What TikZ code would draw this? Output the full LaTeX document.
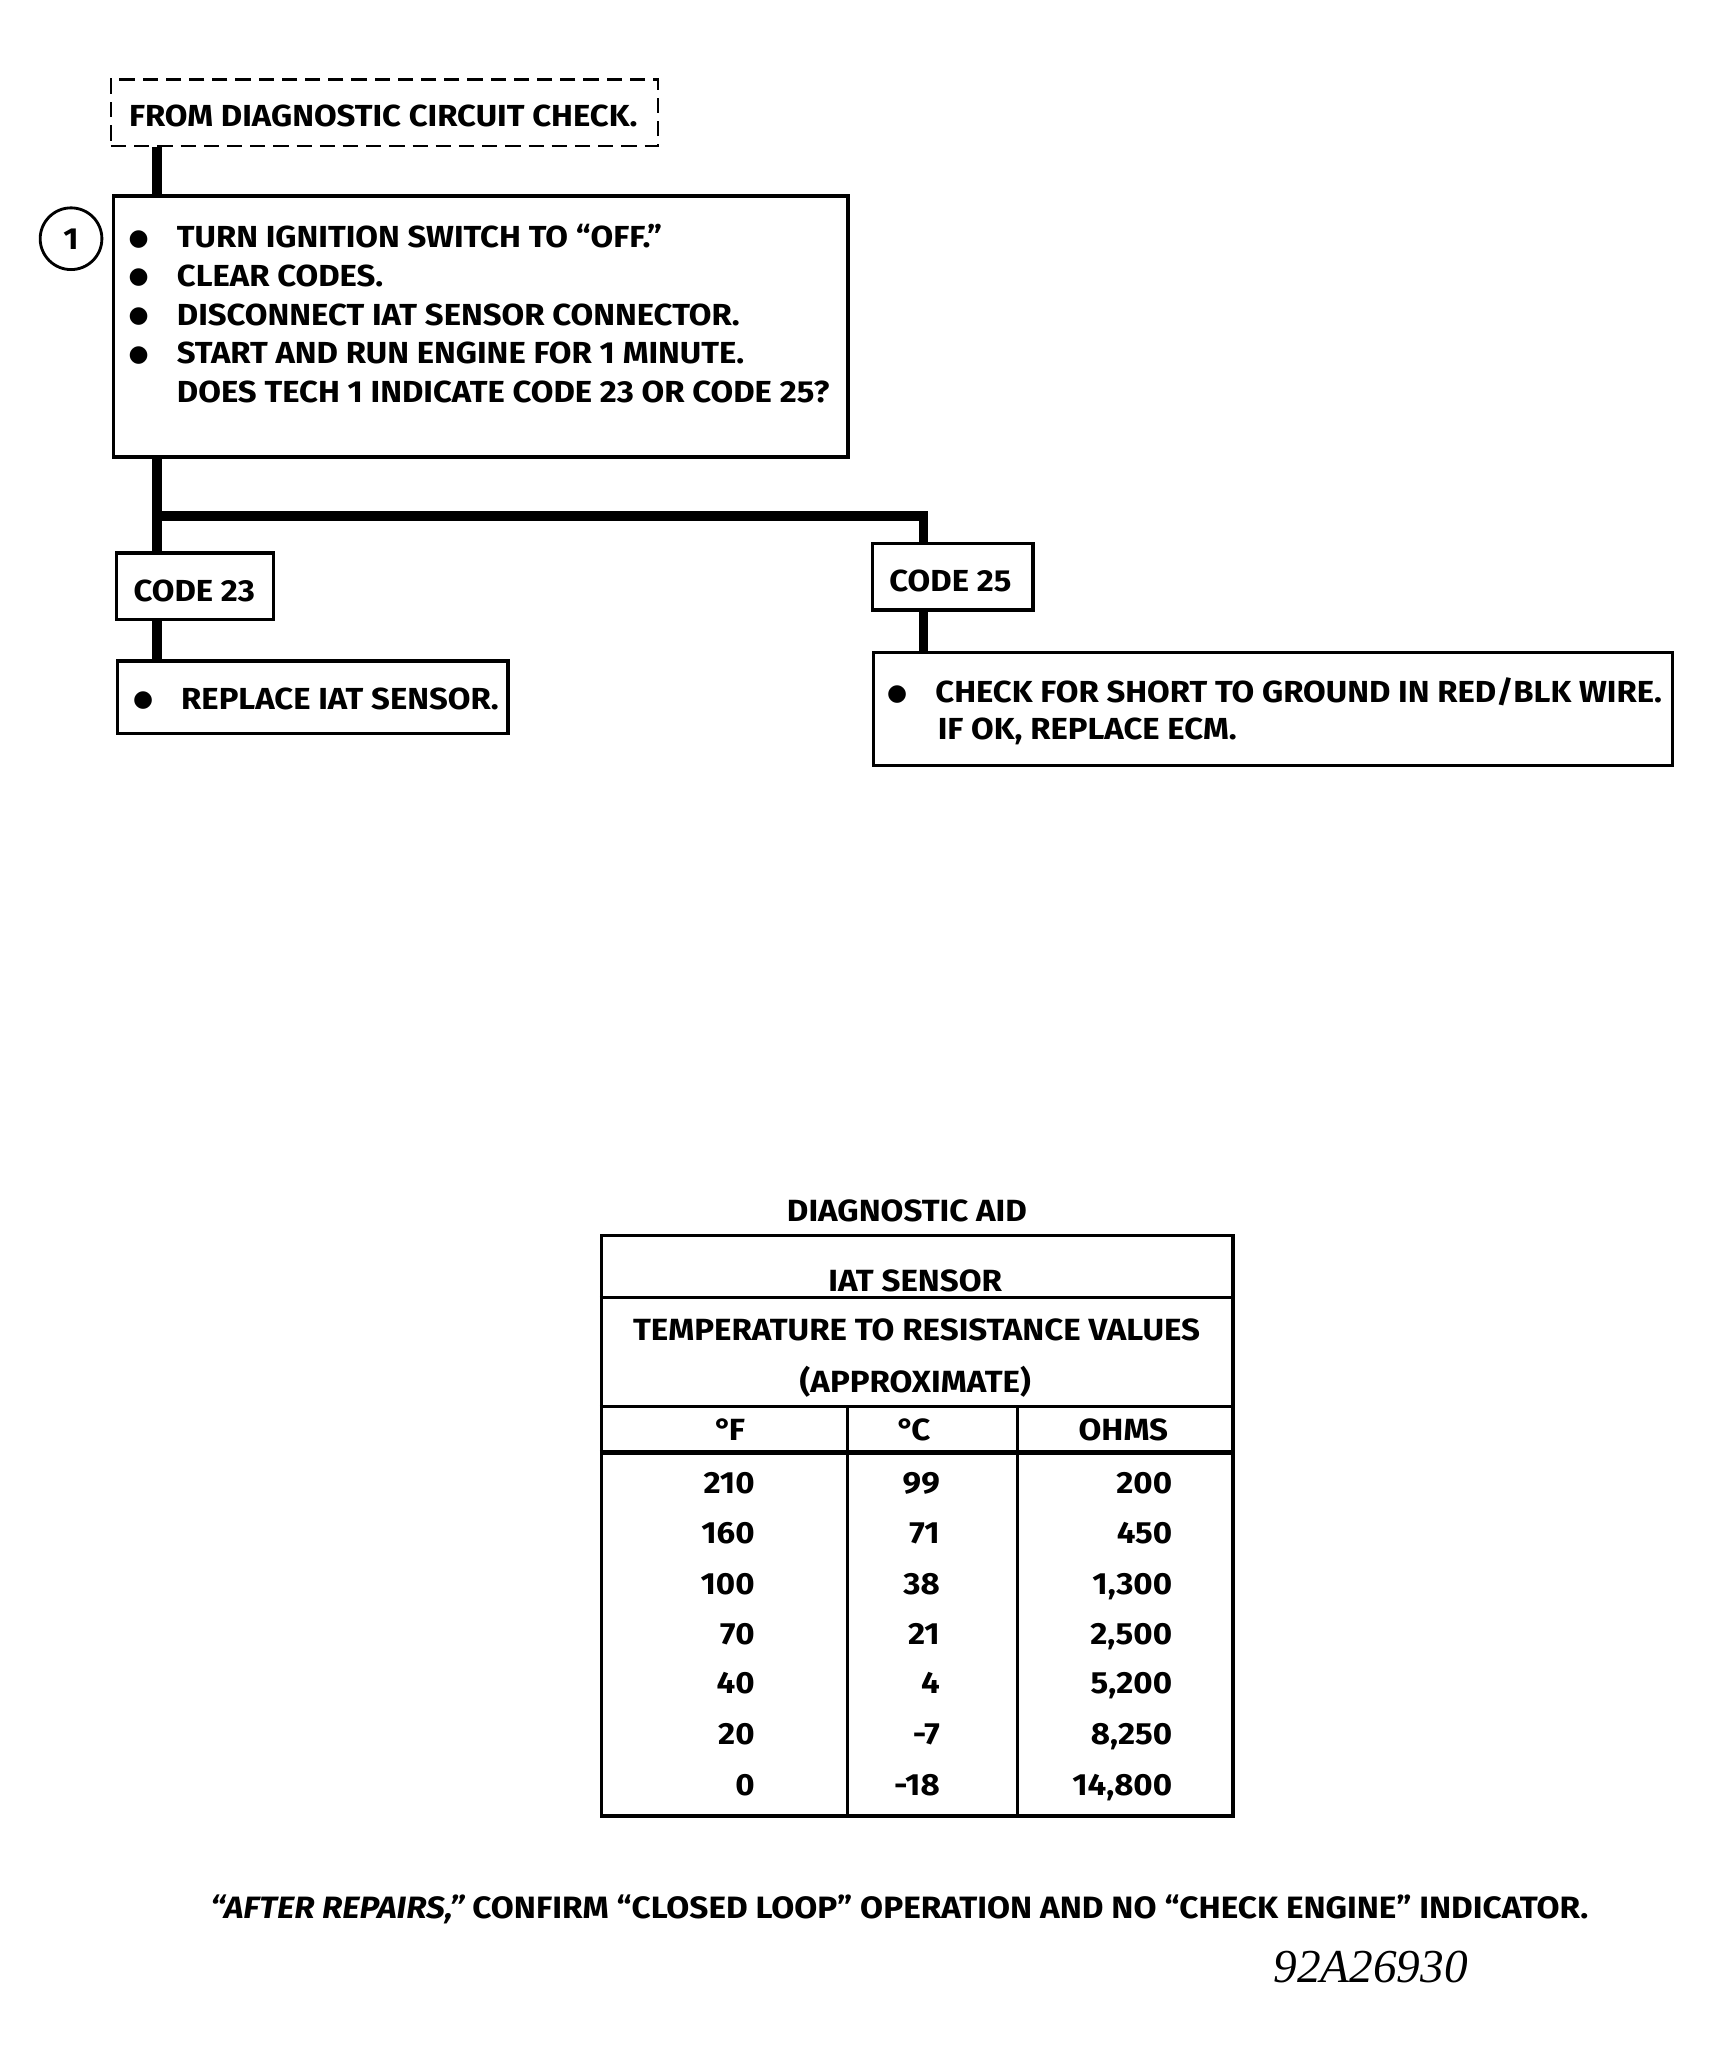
\documentclass[tikz,border=0pt]{standalone}
\usepackage{fontspec}
\setmainfont{Fira Sans}[FakeStretch=1.08]
\newfontfamily\serifrm{Liberation Serif}
\newfontfamily\dejavu{DejaVu Sans}
\usetikzlibrary{fit}
\newcommand\flowfont{\bfseries\fontsize{13.9}{16}\selectfont}
\newcommand\footfont{\bfseries\fontsize{14.1}{16}\selectfont}
\newcommand\tabfont{\bfseries\fontsize{14.0}{16}\selectfont}
\newcommand\bul{\makebox[20.8pt][l]{\hspace{-1.2pt}\raisebox{1.1pt}{\dejavu\fontsize{10.5}{12}\selectfont ●}}}
\newcommand\dg{°\kern-1.5pt}
\tikzset{
  box/.style={draw, line width=1.6pt, inner sep=0pt},
  dbox/.style={draw, line width=1.2pt, dash pattern=on 7pt off 3.6pt, inner sep=0pt},
  conn/.style={line width=4.3pt, line join=miter, line cap=butt},
  txt/.style={anchor=base west, inner sep=0pt, font=\flowfont},
  ctxt/.style={anchor=base, inner sep=0pt, font=\tabfont},
  rtxt/.style={anchor=base east, inner sep=0pt, font=\tabfont},
  tline/.style={line width=1.5pt},
  numcirc/.style={draw, circle, line width=1.3pt, minimum size=28.2pt, inner sep=0pt, font=\flowfont}
}
\begin{document}
\begin{tikzpicture}[x=0.6pt, y=-0.6pt]
\fill[white] (0,0) rectangle (1303,1568);
\useasboundingbox (0,0) rectangle (1303,1568);

% ---- flowchart boxes
\node[dbox, fit={(84.5,60.5) (501,111.2)}] (start) {};
\node[box, fit={(86.6,149.2) (645.8,347.9)}] (s1) {};
\node[numcirc] (n1) at (54.1,181.8) {1};
\node[box, fit={(88.8,421) (208.4,471.7)}] (c23) {};
\node[box, fit={(664.3,413.8) (786.5,464.5)}] (c25) {};
\node[box, fit={(89.6,503.4) (386.7,558.4)}] (r23) {};
\node[box, fit={(665.2,497) (1273.8,582.8)}] (r25) {};

% ---- texts
\node[txt] (tstart) at (98,96.4) {FROM DIAGNOSTIC CIRCUIT CHECK.};
\node[txt] (l1) at (99.7,188.6) {\bul TURN IGNITION SWITCH TO “OFF.”};
\node[txt] (l2) at (99.7,218.1) {\bul CLEAR CODES.};
\node[txt] (l3) at (99.7,247.6) {\bul DISCONNECT IAT SENSOR CONNECTOR.};
\node[txt] (l4) at (99.7,277.1) {\bul START AND RUN ENGINE FOR 1 MINUTE.};
\node[txt] (l5) at (134.4,306.6) {DOES TECH 1 INDICATE CODE 23 OR CODE 25?};
\node[txt] (tc23) at (101.4,457.8) {CODE 23};
\node[txt] (tc25) at (677,450.5) {CODE 25};
\node[txt] (tr23) at (103,540.2) {\bul REPLACE IAT SENSOR.};
\node[txt] (tr25a) at (677.3,535) {\bul CHECK FOR SHORT TO GROUND IN RED/BLK WIRE.};
\node[txt] (tr25b) at (713.8,563.4) {IF OK, REPLACE ECM.};

% ---- connectors
\coordinate (xa) at (119.5,393);
\coordinate (xb) at (703.2,393);
\draw[conn] (start.south -| xa) -- (s1.north -| xa);
\draw[conn] (s1.south -| xa) -- (c23.north -| xa);
\draw[conn] ([xshift=-2.15pt]xa) -- (xb) -- (c25.north -| xb);
\draw[conn] (c23.south -| xa) -- (r23.north -| xa);
\draw[conn] (c25.south -| xb) -- (r25.north -| xb);

% ---- diagnostic aid table
\node[ctxt] (ttitle) at (690.7,930) {DIAGNOSTIC AID};
\node[box, line width=1.5pt, fit={(458,941) (939,1383)}] (tbl) {};
\draw[tline] (tbl.west |- 0,988) -- (tbl.east |- 0,988);
\draw[tline] (tbl.west |- 0,1071) -- (tbl.east |- 0,1071);
\draw[line width=2.2pt] (tbl.west |- 0,1106) -- (tbl.east |- 0,1106);
\draw[tline] (645.5,1071) -- (645.5,1383);
\draw[tline] (775,1071) -- (775,1383);
\node[ctxt] (hiat) at (697,983.5) {IAT SENSOR};
\node[ctxt] (htemp) at (698,1021) {TEMPERATURE TO RESISTANCE VALUES};
\node[ctxt] (happ) at (697,1060.5) {(APPROXIMATE)};
\node[ctxt] (hf) at (555.8,1097) {\dg F};
\node[ctxt] (hc) at (696,1097) {\dg C};
\node[ctxt] (ho) at (855.4,1097) {OHMS};
\foreach \f/\c/\o/\y [count=\i] in {210/99/200/1137, 160/71/450/1175.5, 100/38/{1,300}/1214, 70/21/{2,500}/1252, 40/4/{5,200}/1290, 20/-7/{8,250}/1328.5, 0/-18/{14,800}/1367}{
  \node[rtxt] (f\i) at (575,\y) {\f};
  \node[rtxt] (c\i) at (716,\y) {\c};
  \node[rtxt] (o\i) at (893,\y) {\o};
}

% ---- footer
\node[anchor=base west, inner sep=0pt, font=\footfont] (foot) at (159.8,1461) {{\itshape “AFTER REPAIRS,”} CONFIRM “CLOSED LOOP” OPERATION AND NO “CHECK ENGINE” INDICATOR.};
\node[anchor=base west, inner sep=0pt, font={\serifrm\itshape\fontsize{21.6}{24}\selectfont}] (code) at (969.5,1509.8) {92A26930};
\end{tikzpicture}
\end{document}
